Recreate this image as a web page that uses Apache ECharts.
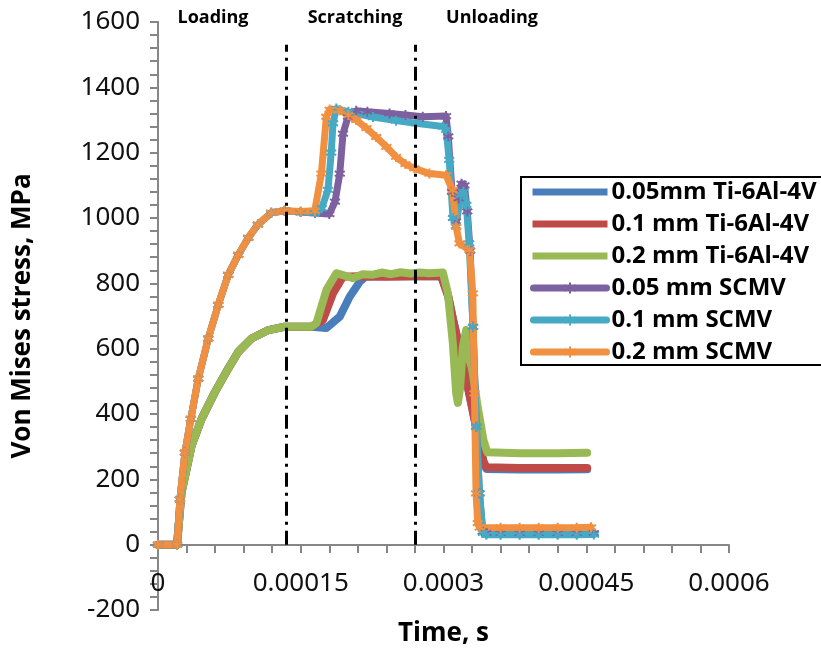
<!DOCTYPE html>
<html>
<head>
<meta charset="utf-8">
<title>Von Mises stress vs time</title>
<script src="https://cdn.jsdelivr.net/npm/echarts@6/dist/echarts.min.js"></script>
<style>
  html, body { margin: 0; padding: 0; background: #fff; }
  #chart { width: 821px; height: 652px; }
</style>
</head>
<body>
<div id="chart"></div>
<script>
// series names (legend order)
var seriesNames = ['0.05mm Ti-6Al-4V', '0.1 mm Ti-6Al-4V', '0.2 mm Ti-6Al-4V',
                   '0.05 mm SCMV', '0.1 mm SCMV', '0.2 mm SCMV'];
var seriesColors = ['#4A7EBB', '#BE4B48', '#98B954', '#7D60A0', '#46AAC5', '#F09040'];

// [time s, stress MPa]
var ti005 = [[0, 0], [0.00002, 0], [0.0000247, 159], [0.0000353, 303], [0.0000458, 385], [0.0000598, 467],
  [0.0000738, 539], [0.0000843, 590], [0.0000983, 631], [0.000116, 657], [0.000133, 667], [0.000161, 667],
  [0.000177, 663], [0.000191, 698], [0.0002014, 759], [0.000212, 805], [0.000218, 820], [0.00024, 822],
  [0.00027, 822], [0.0002976, 822], [0.000305, 760], [0.00031, 690], [0.000317, 600], [0.000323, 520],
  [0.00033, 420], [0.000337, 320], [0.000342, 252], [0.000345, 232], [0.00038, 230], [0.00042, 230], [0.000451, 231]];
var ti01 = [[0, 0], [0.00002, 0], [0.0000247, 159], [0.0000353, 303], [0.0000458, 385], [0.0000598, 467],
  [0.0000738, 539], [0.0000843, 590], [0.0000983, 631], [0.000116, 657], [0.000133, 667], [0.000161, 667],
  [0.0001734, 688], [0.000184, 770], [0.0001944, 820], [0.00021, 822], [0.00024, 820], [0.00027, 822],
  [0.0002976, 822], [0.000305, 760], [0.00031, 690], [0.000317, 600], [0.000323, 520], [0.00033, 420],
  [0.000337, 320], [0.000342, 255], [0.000345, 237], [0.00038, 235], [0.00042, 235], [0.000451, 235]];
var ti02 = [[0, 0], [0.00002, 0], [0.0000247, 159], [0.0000353, 303], [0.0000458, 385], [0.0000598, 467],
  [0.0000738, 539], [0.0000843, 590], [0.0000983, 631], [0.000116, 657], [0.000133, 667], [0.000161, 667],
  [0.0001665, 678], [0.000177, 780], [0.0001874, 831], [0.0002049, 816], [0.000215, 828], [0.000225, 826],
  [0.000235, 833], [0.000245, 828], [0.000255, 834], [0.000265, 830], [0.000275, 833], [0.000285, 831],
  [0.0002993, 833], [0.0003046, 770], [0.0003098, 618], [0.0003133, 465], [0.0003151, 434], [0.0003175, 480],
  [0.0003203, 606], [0.0003238, 657], [0.0003273, 565], [0.00033, 540], [0.000336, 420], [0.000342, 320],
  [0.000346, 283], [0.00038, 280], [0.00042, 280], [0.000451, 281]];
var scmv005 = [[0, 0], [0.00002, 0], [0.000023, 139], [0.0000283, 282], [0.0000345, 385], [0.0000423, 508],
  [0.0000528, 631], [0.0000633, 734], [0.0000738, 826], [0.0000843, 887], [0.0000948, 939], [0.000105, 980],
  [0.000119, 1016], [0.000133, 1022], [0.00015, 1018], [0.000165, 1015], [0.00018, 1012], [0.000186, 1050],
  [0.000191, 1136], [0.0001944, 1258], [0.0001997, 1310], [0.0002083, 1328], [0.00022, 1325], [0.0002433, 1320],
  [0.00026, 1315], [0.0002782, 1310], [0.0003026, 1312], [0.000305, 1250], [0.000309, 1080], [0.000313, 990],
  [0.000316, 1060], [0.000319, 1105], [0.000322, 1100], [0.000325, 1020], [0.000328, 900], [0.000331, 667],
  [0.0003345, 361], [0.0003378, 157], [0.0003413, 40], [0.000345, 35], [0.00036, 34], [0.00038, 34],
  [0.0004, 34], [0.00042, 34], [0.00044, 34], [0.000458, 35]];
var scmv01 = [[0, 0], [0.00002, 0], [0.000023, 139], [0.0000283, 282], [0.0000345, 385], [0.0000423, 508],
  [0.0000528, 631], [0.0000633, 734], [0.0000738, 826], [0.0000843, 887], [0.0000948, 939], [0.000105, 980],
  [0.000119, 1016], [0.000133, 1022], [0.00015, 1018], [0.000165, 1016], [0.000172, 1030], [0.0001786, 1086],
  [0.000182, 1200], [0.0001839, 1290], [0.0001874, 1335], [0.0002, 1325], [0.0002259, 1309], [0.00025, 1298],
  [0.0002713, 1290], [0.0002993, 1280], [0.0003028, 1270], [0.000306, 1178], [0.00031, 1000], [0.000313, 975],
  [0.000318, 1070], [0.000321, 1080], [0.000324, 1040], [0.000327, 922], [0.000331, 667], [0.0003345, 361],
  [0.0003378, 157], [0.0003413, 36], [0.000345, 30], [0.00036, 30], [0.00038, 30], [0.0004, 30],
  [0.00042, 30], [0.00044, 30], [0.000458, 31]];
var scmv02 = [[0, 0], [0.00002, 0], [0.000023, 139], [0.0000283, 282], [0.0000345, 385], [0.0000423, 508],
  [0.0000528, 631], [0.0000633, 734], [0.0000738, 826], [0.0000843, 887], [0.0000948, 939], [0.000105, 980],
  [0.000119, 1016], [0.000133, 1022], [0.00015, 1020], [0.0001647, 1022], [0.0001717, 1136], [0.0001769, 1310],
  [0.0001804, 1332], [0.000191, 1330], [0.0002, 1315], [0.0002083, 1300], [0.000219, 1275], [0.0002293, 1248],
  [0.00024, 1218], [0.0002502, 1187], [0.00026, 1165], [0.0002694, 1152], [0.0002852, 1136], [0.0003026, 1131],
  [0.0003096, 1085], [0.0003133, 973], [0.0003168, 922], [0.0003273, 902], [0.0003308, 769], [0.0003325, 463],
  [0.0003342, 157], [0.000336, 66], [0.000338, 52], [0.00036, 52], [0.00038, 52], [0.0004, 52],
  [0.00042, 52], [0.00044, 52], [0.000455, 53]];
var seriesData = [ti005, ti01, ti02, scmv005, scmv01, scmv02];

// phase boundaries (dash-dot lines) and phase titles
var phaseLines = [0.000135, 0.00027];
var phaseTitles = ['Loading', 'Scratching', 'Unloading'];

var starPath = 'path://M0,-5L0,5M-4.3,-2.5L4.3,2.5M-4.3,2.5L4.3,-2.5';
var lineIcon = 'path://M0,0H100V7H0Z';
var axisGray = '#868686';

(function () {
    var myChart = echarts.init(document.getElementById('chart'));

    var series = seriesData.map(function (d, i) {
        var isScmv = i >= 3;
        var s = {
            name: seriesNames[i],
            type: 'line',
            data: d,
            color: seriesColors[i],
            lineStyle: { width: isScmv ? 7 : 8, color: seriesColors[i], cap: 'round', join: 'round' },
            symbol: isScmv ? starPath : 'none',
            symbolSize: 10,
            showSymbol: isScmv,
            itemStyle: { color: seriesColors[i], borderColor: seriesColors[i], borderWidth: 2 },
            animation: false
        };
        if (i === 0) {
            s.markLine = {
                silent: true,
                symbol: ['none', 'none'],
                label: { show: false },
                lineStyle: { color: '#000', width: 3, type: [14, 6, 3, 6] },
                data: phaseLines.map(function (t) {
                    return [{ coord: [t, 0] }, { coord: [t, 1530] }];
                }),
                animation: false
            };
        }
        return s;
    });

    var legendData = seriesNames.map(function (n, i) {
        return i < 3 ? { name: n, icon: lineIcon } : { name: n };
    });

    var titleX = [213, 355, 492];

    option = {
        backgroundColor: '#fff',
        grid: { left: 158, right: 92, top: 22, bottom: 42, containLabel: false, outerBoundsMode: 'none' },
        legend: {
            orient: 'vertical',
            left: 521,
            top: 177,
            data: legendData,
            itemWidth: 73,
            itemHeight: 14,
            itemGap: 8,
            padding: [3, 10, 1, 9],
            borderColor: '#000',
            borderWidth: 2,
            borderRadius: 0,
            backgroundColor: '#fff',
            lineStyle: { width: 7, cap: 'round' },
            textStyle: { fontFamily: 'Open Sans', fontWeight: 'bold', fontSize: 24, lineHeight: 24, color: '#000' }
        },
        xAxis: {
            type: 'value',
            min: 0,
            max: 0.0006,
            interval: 0.00015,
            // axis sits on the zero line, 65px above the grid bottom (-200)
            offset: -65,
            name: 'Time, s',
            nameLocation: 'middle',
            nameGap: 76,
            nameTextStyle: { fontFamily: 'Open Sans', fontWeight: 'bold', fontSize: 26, color: '#000' },
            axisLine: { onZero: false, lineStyle: { color: axisGray, width: 2 } },
            axisTick: { show: true, length: 8, lineStyle: { color: axisGray, width: 2 } },
            minorTick: { show: true, splitNumber: 5, length: 8, lineStyle: { color: axisGray, width: 2 } },
            splitLine: { show: false },
            axisLabel: {
                margin: 26,
                fontFamily: 'Noto Sans',
                fontSize: 26,
                color: '#111',
                formatter: function (v) { return v === 0 ? '0' : String(parseFloat(v.toFixed(5))); }
            }
        },
        yAxis: {
            type: 'value',
            min: -200,
            max: 1600,
            interval: 200,
            name: 'Von Mises stress, MPa',
            nameLocation: 'middle',
            nameGap: 122,
            nameTextStyle: { fontFamily: 'Open Sans', fontWeight: 'bold', fontSize: 26, color: '#000' },
            axisLine: { show: true, lineStyle: { color: axisGray, width: 2 } },
            axisTick: { show: true, length: 8, lineStyle: { color: axisGray, width: 2 } },
            minorTick: { show: true, splitNumber: 5, length: 8, lineStyle: { color: axisGray, width: 2 } },
            splitLine: { show: false },
            axisLabel: {
                margin: 18,
                fontFamily: 'Noto Sans',
                fontSize: 26,
                color: '#111',
                formatter: function (v) { return String(v); }
            }
        },
        graphic: phaseTitles.map(function (txt, i) {
            return {
                type: 'text',
                x: titleX[i],
                y: 18,
                style: {
                    text: txt,
                    textAlign: 'center',
                    textVerticalAlign: 'middle',
                    font: 'bold 18px "Open Sans"',
                    fill: '#000'
                }
            };
        }),
        series: series
    };
    myChart.setOption(option);
    window.addEventListener('resize', function () {
        myChart.resize();
    });
})();
</script>
</body>
</html>
